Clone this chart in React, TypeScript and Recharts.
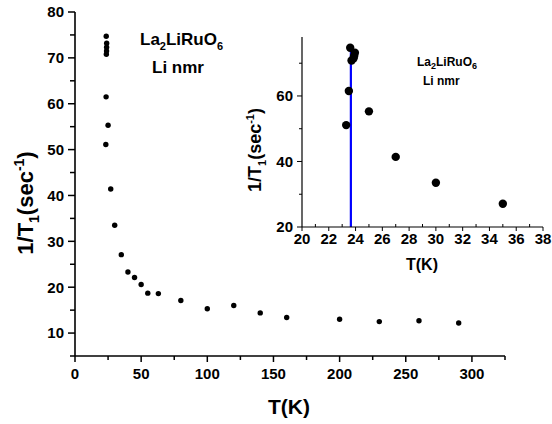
import { ScatterChart, Scatter, XAxis, YAxis, ReferenceLine, Label } from "recharts";

// 1/T1 vs temperature, Li NMR of La2LiRuO6
const temps = [23.3, 23.5, 23.6, 23.7, 23.85, 23.9, 23.95, 25, 27, 30, 35, 40, 45, 50, 55, 63, 80, 100, 120, 140, 160, 200, 230, 260, 290];
const rates = [51.1, 61.5, 74.7, 70.8, 71.5, 72.3, 73.2, 55.3, 41.4, 33.5, 27.1, 23.3, 22.1, 20.6, 18.7, 18.6, 17.1, 15.3, 16.0, 14.4, 13.4, 13.0, 12.5, 12.7, 12.2];

const mainXTicks = [0, 25, 50, 75, 100, 125, 150, 175, 200, 225, 250, 275, 300, 325];
const mainYTicks = [5, 10, 15, 20, 25, 30, 35, 40, 45, 50, 55, 60, 65, 70, 75, 80];
const insetXTicks = [20, 21, 22, 23, 24, 25, 26, 27, 28, 29, 30, 31, 32, 33, 34, 35, 36, 37, 38];
const insetYTicks = [20, 30, 40, 50, 60, 70];

// vertical marker in the inset
const transitionT = 23.65;
const markerTop = 75;

const data = temps.map((t, i) => ({ t, r: rates[i] }));
const insetData = data.filter((d) => d.t <= 38);

const FONT = "'Liberation Sans', Arial, sans-serif";

function yTick(isMajor: (v: number) => boolean, majorLen: number, minorLen: number, fontSize: number, sw: number) {
  return (props: any) => {
    const { x, y, payload } = props;
    const major = isMajor(payload.value);
    const len = major ? majorLen : minorLen;
    return (
      <g>
        <line x1={x} y1={y} x2={x - len} y2={y} stroke="#000" strokeWidth={sw} />
        {major && (
          <text x={x - majorLen - 4} y={y + fontSize * 0.36} textAnchor="end" fontSize={fontSize} fontWeight="bold" fontFamily={FONT} fill="#000">
            {payload.value}
          </text>
        )}
      </g>
    );
  };
}

function xTick(isMajor: (v: number) => boolean, majorLen: number, minorLen: number, minorUp: boolean, fontSize: number, gap: number, sw: number) {
  return (props: any) => {
    const { x, y, payload } = props;
    const major = isMajor(payload.value);
    const y2 = major ? y + majorLen : minorUp ? y - minorLen : y + minorLen;
    return (
      <g>
        <line x1={x} y1={y} x2={x} y2={y2} stroke="#000" strokeWidth={sw} />
        {major && (
          <text x={x} y={y + gap} textAnchor="middle" fontSize={fontSize} fontWeight="bold" fontFamily={FONT} fill="#000">
            {payload.value}
          </text>
        )}
      </g>
    );
  };
}

function rateLabel(cx: number, cy: number, fontSize: number) {
  const small = Math.round(fontSize * 0.62);
  return () => (
    <text x={cx} y={cy} transform={`rotate(-90, ${cx}, ${cy})`} textAnchor="middle" fontSize={fontSize} fontWeight="bold" fontFamily={FONT} fill="#000">
      1/T
      <tspan fontSize={small} dy={fontSize * 0.25}>1</tspan>
      <tspan dy={-fontSize * 0.25}>(sec</tspan>
      <tspan fontSize={small} dy={-fontSize * 0.4}>-1</tspan>
      <tspan dy={fontSize * 0.4}>)</tspan>
    </text>
  );
}

const dot = (r: number) => (p: any) => <circle cx={p.cx} cy={p.cy} r={r} fill="#000" />;

export default function App() {
  return (
    <div style={{ position: "absolute", left: 0, top: 0, width: 552, height: 424, background: "#fff" }}>
      <ScatterChart width={552} height={424} margin={{ top: 12, right: 47, bottom: 0, left: 0 }}>
        <XAxis
          type="number"
          dataKey="t"
          domain={[0, 325]}
          ticks={mainXTicks}
          interval={0}
          height={68}
          tickSize={0}
          tickMargin={0}
          tickLine={false}
          axisLine={{ stroke: "#000", strokeWidth: 1.6 }}
          tick={xTick((v) => v % 50 === 0, 6, 4, false, 15, 23, 1.5)}
        >
          <Label content={() => (
            <text x={289} y={414} textAnchor="middle" fontSize={21} fontWeight="bold" fontFamily={FONT} fill="#000">T(K)</text>
          )} />
        </XAxis>
        <YAxis
          type="number"
          dataKey="r"
          domain={[5, 80]}
          ticks={mainYTicks}
          interval={0}
          width={75}
          tickSize={0}
          tickMargin={0}
          tickLine={false}
          axisLine={{ stroke: "#000", strokeWidth: 1.6 }}
          tick={yTick((v) => v % 10 === 0, 7, 5, 15, 1.5)}
        >
          <Label content={rateLabel(33, 203, 22)} />
        </YAxis>
        <Scatter data={data} fill="#000" shape={dot(2.7)} isAnimationActive={false} />
      </ScatterChart>

      <div style={{ position: "absolute", left: 240, top: 20 }}>
        <ScatterChart width={312} height={262} margin={{ top: 17, right: 9, bottom: 0, left: 0 }}>
          <XAxis
            type="number"
            dataKey="t"
            domain={[20, 38]}
            ticks={insetXTicks}
            interval={0}
            height={55}
            tickSize={0}
            tickMargin={0}
            tickLine={false}
            axisLine={{ stroke: "#000", strokeWidth: 1.2 }}
            tick={xTick((v) => v % 2 === 0, 4, 3, true, 15, 17, 1)}
          >
            <Label content={() => (
              <text x={182} y={250} textAnchor="middle" fontSize={16} fontWeight="bold" fontFamily={FONT} fill="#000">T(K)</text>
            )} />
          </XAxis>
          <YAxis
            type="number"
            dataKey="r"
            domain={[20, 78]}
            ticks={insetYTicks}
            interval={0}
            width={62}
            tickSize={0}
            tickMargin={0}
            tickLine={false}
            axisLine={{ stroke: "#000", strokeWidth: 1.2 }}
            tick={yTick((v) => v % 20 === 0, 5, 3, 15, 1)}
          >
            <Label content={rateLabel(21, 130, 18)} />
          </YAxis>
          <Scatter data={insetData} fill="#000" shape={dot(4.2)} isAnimationActive={false} />
          <ReferenceLine
            segment={[{ x: transitionT, y: 20 }, { x: transitionT, y: markerTop }]}
            stroke="#0000ff"
            strokeWidth={2.2}
          />
        </ScatterChart>
      </div>

      <svg width={552} height={424} style={{ position: "absolute", left: 0, top: 0, pointerEvents: "none" }}>
        <g fontFamily={FONT} fontWeight="bold" fill="#000">
          <text x={140} y={45} fontSize={17}>
            La<tspan fontSize={11} dy={5}>2</tspan>
            <tspan dy={-5}>LiRuO</tspan>
            <tspan fontSize={11} dy={5}>6</tspan>
          </text>
          <text x={152} y={73} fontSize={17}>Li nmr</text>
          <text x={417} y={66} fontSize={12}>
            La<tspan fontSize={9} dy={3}>2</tspan>
            <tspan dy={-3}>LiRuO</tspan>
            <tspan fontSize={9} dy={3}>6</tspan>
          </text>
          <text x={423} y={85} fontSize={12}>Li nmr</text>
        </g>
      </svg>
    </div>
  );
}
